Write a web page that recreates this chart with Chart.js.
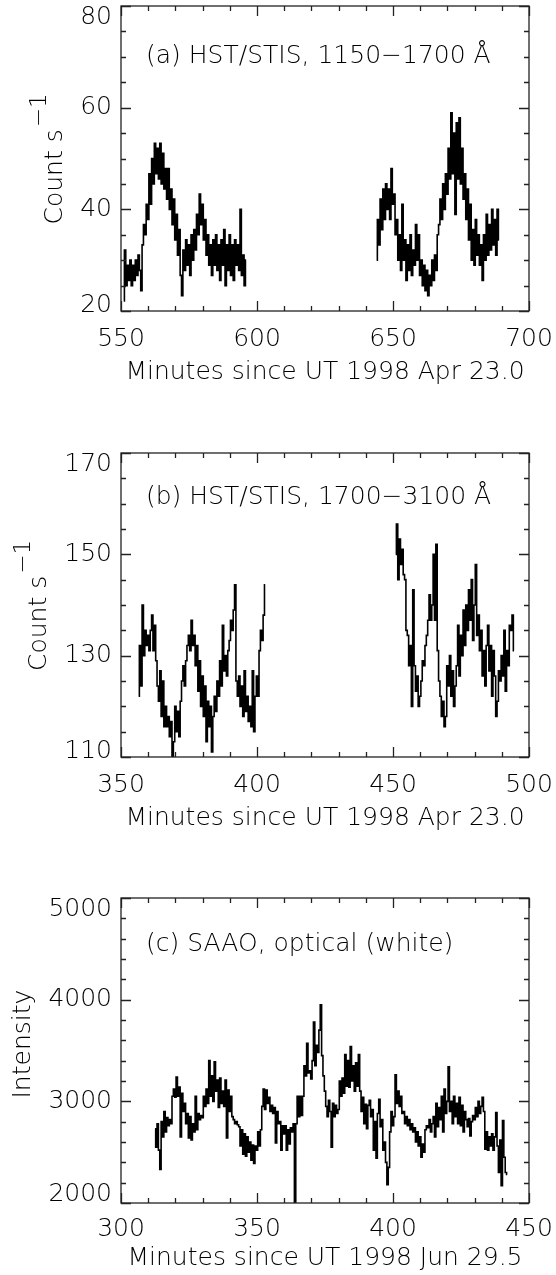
<!DOCTYPE html>
<html>
<head>
<meta charset="utf-8">
<title>Light curves</title>
<script src="https://cdn.jsdelivr.net/npm/chart.js@4.4.1/dist/chart.umd.min.js"></script>
<style>
  html, body { margin: 0; padding: 0; background: #fff; }
  #page { position: relative; width: 556px; height: 1275px; overflow: hidden; }
  .panel { position: absolute; left: 0; width: 556px; height: 425px; }
</style>
</head>
<body>
<div id="page">
  <div class="panel" style="top:0px"><canvas id="chart-a" width="556" height="425"></canvas></div>
  <div class="panel" style="top:425px"><canvas id="chart-b" width="556" height="425"></canvas></div>
  <div class="panel" style="top:850px"><canvas id="chart-c" width="556" height="425"></canvas></div>
</div>
<script>
// ---- Data ----

// (a) HST/STIS 1150-1700 A, two visits, 0.5 min bins
const stepA = 0.5;
const startA1 = 551.0;
const countsA1 = [
  22, 32, 25, 29, 26, 30, 25, 29, 26, 30, 27, 31, 28, 24, 33, 37, 35, 41, 38, 47,
  41, 50, 45, 53, 47, 52, 46, 53, 45, 51, 44, 48, 42, 48, 40, 44, 37, 42, 34, 39,
  31, 36, 27, 23, 32, 28, 34, 29, 33, 27, 35, 30, 36, 32, 39, 35, 43, 37, 41, 34,
  38, 31, 35, 29, 33, 27, 34, 29, 35, 28, 33, 26, 34, 29, 36, 25, 33, 28, 35, 27,
  33, 26, 34, 29, 33, 28, 40, 27, 31, 25, 30
];
const startA2 = 644.0;
const countsA2 = [
  30, 38, 33, 42, 36, 44, 38, 45, 40, 44, 38, 48, 41, 43, 35, 38, 30, 35, 28, 41,
  30, 34, 26, 33, 28, 35, 27, 32, 29, 37, 30, 35, 27, 30, 25, 29, 24, 28, 23, 27,
  25, 30, 26, 31, 28, 35, 37, 42, 38, 45, 40, 47, 43, 52, 46, 59, 47, 55, 39, 57,
  46, 58, 45, 52, 42, 47, 38, 44, 34, 41, 30, 36, 29, 38, 31, 35, 29, 33, 26, 35,
  30, 39, 31, 37, 32, 40, 33, 38, 31, 40, 34
];

// (b) HST/STIS 1700-3100 A, 0.5 min bins
const stepB = 0.5;
const startB1 = 356.5;
const countsB1 = [
  122, 132, 124, 140, 130, 135, 132, 134, 131, 135, 138, 131, 136, 129, 124, 121, 127, 118, 125, 116,
  120, 116, 118, 114, 117, 110, 113, 120, 115, 119, 114, 121, 125, 128, 124, 129, 132, 134, 131, 137,
  132, 134, 128, 132, 123, 129, 120, 126, 118, 124, 113, 121, 116, 120, 111, 118, 122, 119, 125, 122,
  129, 124, 136, 127, 130, 126, 131, 133, 137, 135, 139, 144, 125, 122, 126, 120, 124, 118, 127, 119,
  122, 117, 120, 116, 127, 115, 122, 126, 122, 131, 135, 133, 138, 144
];
const startB2 = 451.0;
const countsB2 = [
  150, 156, 145, 153, 148, 151, 146, 145, 135, 134, 128, 132, 120, 143, 128, 123, 126, 120, 122, 125,
  129, 128, 132, 134, 137, 142, 137, 140, 150, 137, 152, 131, 125, 122, 118, 121, 116, 118, 128, 124,
  130, 122, 127, 120, 124, 128, 136, 126, 134, 130, 139, 132, 140, 135, 143, 137, 145, 133, 140, 148,
  134, 138, 131, 135, 126, 131, 124, 132, 136, 127, 132, 122, 131, 126, 118, 121, 127, 125, 130, 126,
  135, 123, 131, 128, 136, 135, 138, 131
];

// (c) SAAO optical (white light), 0.5 min bins
const stepC = 0.5;
const startC = 312.5;
const intensityC = [
  2730, 2550, 2780, 2520, 2330, 2800, 2650, 2900, 2700, 2840, 2760, 2820, 2780, 3050, 3120, 3040, 3240, 3050, 3140, 2650,
  3080, 2900, 2980, 2780, 2880, 2640, 2850, 2620, 2780, 2700, 3050, 2720, 2880, 2820, 2860, 2840, 3050, 2950, 3120, 2980,
  3400, 3050, 3250, 3000, 3390, 3100, 3210, 2940, 3230, 2980, 3100, 2950, 3210, 2640, 3110, 2900, 3050, 2850, 2820, 2780,
  2800, 2770, 2750, 2560, 2720, 2480, 2680, 2460, 2650, 2500, 2600, 2420, 2570, 2390, 2560, 2520, 2700, 2560, 2720, 2950,
  3120, 2920, 3110, 2980, 3040, 2900, 2960, 2880, 2940, 2590, 2900, 2780, 2800, 2520, 2760, 2680, 2760, 2520, 2720, 2580,
  2740, 2700, 2780, 1500, 2780, 3050, 2850, 3050, 2860, 3050, 3350, 3250, 3570, 3280, 3300, 3220, 3400, 3780, 3350, 3550,
  3480, 3700, 3950, 3450, 3250, 3100, 2950, 2850, 3010, 2900, 2550, 2980, 2850, 2960, 2880, 2920, 3200, 3050, 3230, 3080,
  3460, 3150, 3400, 3140, 3540, 3200, 3350, 3100, 3380, 3150, 3460, 3100, 2900, 3040, 2780, 2970, 2730, 2960, 3010, 2850,
  2920, 2520, 2800, 2440, 2880, 3020, 2750, 2820, 2520, 2600, 2400, 2180, 2350, 2700, 2900, 2760, 2850, 3260, 2980, 3100,
  2950, 3050, 2880, 2900, 2780, 2850, 2760, 2820, 2720, 2780, 2700, 2740, 2600, 2700, 2560, 2650, 2450, 2580, 2500, 2720,
  2760, 2740, 2820, 2700, 2780, 2850, 2650, 2980, 2750, 2940, 2820, 3050, 2700, 3120, 2880, 3000, 3340, 2900, 3000, 2780,
  3050, 2850, 2980, 2780, 3040, 2760, 2960, 2700, 2900, 2820, 2750, 2830, 2660, 2800, 2860, 2820, 2940, 2850, 3000, 2880,
  2950, 3040, 2900, 2530, 2700, 2520, 2650, 2560, 2680, 2520, 2650, 2890, 2560, 2300, 2620, 2170, 2810, 2450, 2300, 2280
];

// Tick labels
const ticksXA = [550, 600, 650, 700];
const ticksYA = [20, 40, 60, 80];
const ticksXB = [350, 400, 450, 500];
const ticksYB = [110, 130, 150, 170];
const ticksXC = [300, 350, 400, 450];
const ticksYC = [2000, 3000, 4000, 5000];

// Labels
const xTitleApr = 'Minutes since UT 1998 Apr 23.0';
const xTitleJun = 'Minutes since UT 1998 Jun 29.5';
const noteA = '(a) HST/STIS, 1150\u22121700 \u00c5';
const noteB = '(b) HST/STIS, 1700\u22123100 \u00c5';
const noteC = '(c) SAAO, optical (white)';

// ---- Helpers ----
const FONT = '"DejaVu Sans", "Liberation Sans", sans-serif';
const WEIGHT = '200';
const INK = '#000';

// Turn a bin list into {x, y} points
const toPoints = (start, step, values) => values.map((v, i) => ({ x: start + i * step, y: v }));

// Box, inward ticks, labels and titles
const framePlugin = {
  id: 'frame',
  afterDraw(chart, args, o) {
    const { ctx, chartArea: a, scales: { x, y } } = chart;
    ctx.save();
    ctx.strokeStyle = '#222';
    ctx.lineWidth = 1.3;
    ctx.strokeRect(a.left, a.top, a.right - a.left, a.bottom - a.top);

    // x ticks (bottom and top)
    ctx.beginPath();
    for (let v = x.min; v <= x.max + 1e-6; v += o.xMinor) {
      const px = Math.round(x.getPixelForValue(v)) + 0.5;
      const len = (Math.abs(v % o.xMajor) < 1e-6) ? 10 : 5;
      ctx.moveTo(px, a.bottom); ctx.lineTo(px, a.bottom - len);
      ctx.moveTo(px, a.top); ctx.lineTo(px, a.top + len);
    }
    // y ticks (left and right)
    for (let v = y.min; v <= y.max + 1e-6; v += o.yMinor) {
      const py = Math.round(y.getPixelForValue(v)) + 0.5;
      const len = (Math.abs((v - y.min) % o.yMajor) < 1e-6) ? 10 : 5;
      ctx.moveTo(a.left, py); ctx.lineTo(a.left + len, py);
      ctx.moveTo(a.right, py); ctx.lineTo(a.right - len, py);
    }
    ctx.stroke();

    ctx.fillStyle = INK;
    ctx.font = `${WEIGHT} ${o.fontSize}px ${FONT}`;

    // x tick labels
    ctx.textAlign = 'center';
    ctx.textBaseline = 'middle';
    o.xTicks.forEach(v => ctx.fillText(String(v), x.getPixelForValue(v), a.bottom + o.xLabelGap));

    // y tick labels (end labels pulled inside like the original)
    ctx.textAlign = 'right';
    o.yTicks.forEach((v, i) => {
      let py = y.getPixelForValue(v);
      if (i === o.yTicks.length - 1) py += o.yTopShift;
      if (i === 0) py -= o.yBottomShift;
      ctx.fillText(String(v), a.left - 9, py);
    });

    // x title
    ctx.textAlign = 'center';
    ctx.fillText(o.xTitle, (a.left + a.right) / 2, a.bottom + o.xTitleGap);

    // panel note
    ctx.textAlign = 'left';
    ctx.textBaseline = 'alphabetic';
    ctx.fillText(o.note, o.noteX, a.top + o.noteY);

    // y title, rotated, with optional superscript
    ctx.translate(o.yTitleX, (a.top + a.bottom) / 2);
    ctx.rotate(-Math.PI / 2);
    ctx.fillText(o.yTitle, o.yTitleStart, 0);
    if (o.yTitleSup) {
      const w = ctx.measureText(o.yTitle).width;
      ctx.font = `${WEIGHT} ${o.fontSize - 2}px ${FONT}`;
      ctx.fillText(o.yTitleSup, o.yTitleStart + w + 2, -16);
    }
    ctx.restore();
  }
};

// Build one panel
const makePanel = (id, segments, scales, frame, pad) => {
  const ctx = document.getElementById(id).getContext('2d');
  return new Chart(ctx, {
    type: 'line',
    data: {
      datasets: segments.map(seg => ({
        data: seg,
        borderColor: INK,
        borderWidth: 1.6,
        pointRadius: 0,
        stepped: 'middle',
        fill: false
      }))
    },
    options: {
      responsive: false,
      animation: false,
      layout: { padding: { left: 121, right: 27, top: pad.top, bottom: pad.bottom } },
      plugins: { legend: { display: false }, tooltip: { enabled: false }, frame: frame },
      scales: {
        x: { type: 'linear', min: scales.xMin, max: scales.xMax, display: false },
        y: { type: 'linear', min: scales.yMin, max: scales.yMax, display: false }
      }
    },
    plugins: [framePlugin]
  });
};

const common = { fontSize: 25, xMinor: 10, xMajor: 50, xLabelGap: 28, xTitleGap: 61 };

// Panel (a)
makePanel('chart-a',
  [toPoints(startA1, stepA, countsA1), toPoints(startA2, stepA, countsA2)],
  { xMin: 550, xMax: 700, yMin: 20, yMax: 80 },
  Object.assign({}, common, {
    xTicks: ticksXA, yTicks: ticksYA, yMinor: 5, yMajor: 20, yTopShift: 11, yBottomShift: 6,
    xTitle: xTitleApr, note: noteA, noteX: 146, noteY: 57,
    yTitle: 'Count s', yTitleSup: '\u22121', yTitleX: 62, yTitleStart: -66
  }),
  { top: 6, bottom: 114 });

// Panel (b)
makePanel('chart-b',
  [toPoints(startB1, stepB, countsB1), toPoints(startB2, stepB, countsB2)],
  { xMin: 350, xMax: 500, yMin: 110, yMax: 170 },
  Object.assign({}, common, {
    xTicks: ticksXB, yTicks: ticksYB, yMinor: 5, yMajor: 20, yTopShift: 11, yBottomShift: 6,
    xTitle: xTitleApr, note: noteB, noteX: 146, noteY: 51,
    yTitle: 'Count s', yTitleSup: '\u22121', yTitleX: 46, yTitleStart: -66
  }),
  { top: 28, bottom: 93 });

// Panel (c)
makePanel('chart-c',
  [toPoints(startC, stepC, intensityC)],
  { xMin: 300, xMax: 450, yMin: 2000, yMax: 5000 },
  Object.assign({}, common, {
    xTicks: ticksXC, yTicks: ticksYC, yMinor: 200, yMajor: 1000, yTopShift: 11, yBottomShift: 9,
    xTitle: xTitleJun, note: noteC, noteX: 146, noteY: 53, xLabelGap: 26, xTitleGap: 55,
    yTitle: 'Intensity', yTitleSup: '', yTitleX: 30, yTitleStart: -48
  }),
  { top: 48, bottom: 72 });
</script>
</body>
</html>
